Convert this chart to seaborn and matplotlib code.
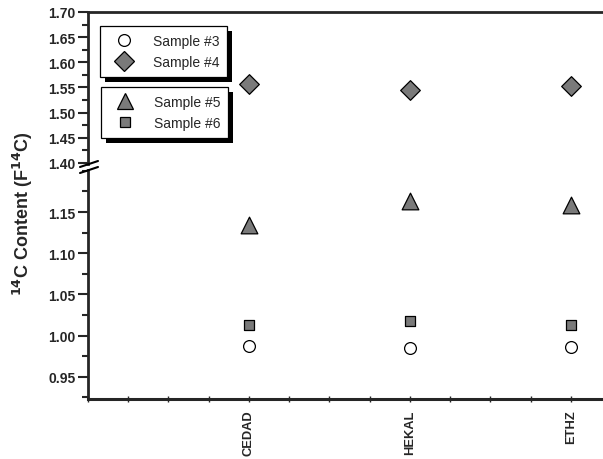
import matplotlib
matplotlib.use("Agg")
import matplotlib.pyplot as plt
import seaborn as sns
import pandas as pd
from matplotlib.lines import Line2D
from matplotlib.patches import Rectangle
from matplotlib.ticker import MultipleLocator

sns.set_style("white")
plt.rcParams['font.family'] = ['Liberation Sans', 'DejaVu Sans']

labs = ["CEDAD", "HEKAL", "ETHZ"]
xpos = [1, 2, 3]
s3 = [0.987, 0.985, 0.986]
s4 = [1.557, 1.546, 1.552]
s5 = [1.134, 1.163, 1.158]
s6 = [1.013, 1.018, 1.013]
ticks_top = [1.40, 1.45, 1.50, 1.55, 1.60, 1.65, 1.70]
ticks_bot = [0.95, 1.00, 1.05, 1.10, 1.15]

series = [
    ("Sample #3", s3, "o", "white", 8.5),
    ("Sample #4", s4, "D", "#7a7a7a", 10),
    ("Sample #5", s5, "^", "#7a7a7a", 12),
    ("Sample #6", s6, "s", "#7a7a7a", 7.5),
]

W, H = 603, 460
fig = plt.figure(figsize=(W / 100, H / 100), dpi=100)

def rect(x0, y0, x1, y1):
    return [x0 / W, 1 - y1 / H, (x1 - x0) / W, (y1 - y0) / H]

ax_t = fig.add_axes(rect(88, 13, 603, 165))
ax_b = fig.add_axes(rect(88, 171, 603, 400))
for a in (ax_t, ax_b):
    a.set_facecolor("none")

for name, vals, m, fc, ms in series:
    df = pd.DataFrame({"x": xpos, "y": vals})
    for a in (ax_t, ax_b):
        sns.scatterplot(data=df, x="x", y="y", ax=a, marker=m, s=ms ** 2,
                        color=fc, edgecolor="black", linewidth=0.9,
                        zorder=3, clip_on=True, legend=False)

ax_t.set_ylim(1.398, 1.70)
ax_b.set_ylim(0.923, 1.201)
for a in (ax_t, ax_b):
    a.set_xlim(0, 3.2)
    a.set_xlabel("")
    a.set_ylabel("")
    a.yaxis.set_minor_locator(MultipleLocator(0.025))
    a.tick_params(axis="y", which="major", direction="out", length=7, width=1.5,
                  labelsize=10, pad=2, left=True)
    a.tick_params(axis="y", which="minor", direction="out", length=4, width=1.5, left=True)
    a.spines["right"].set_visible(False)

ax_t.spines["bottom"].set_visible(False)
ax_t.spines["top"].set_linewidth(2)
ax_t.spines["left"].set_linewidth(2)
ax_t.set_xticks([])

ax_b.spines["top"].set_visible(False)
ax_b.spines["bottom"].set_linewidth(2.2)
ax_b.spines["left"].set_linewidth(2)
ax_b.set_xticks(xpos)
ax_b.set_xticklabels(labs, rotation=90, fontweight="bold", fontsize=9.3)
ax_b.xaxis.set_minor_locator(MultipleLocator(0.25))
ax_b.tick_params(axis="x", which="major", direction="inout", length=5, width=1, bottom=True, pad=5)
ax_b.tick_params(axis="x", which="minor", direction="inout", length=4, width=1, bottom=True)

ax_t.set_yticks(ticks_top)
ax_t.set_yticklabels([f"{v:.2f}" for v in ticks_top], fontweight="bold")
ax_b.set_yticks(ticks_bot)
ax_b.set_yticklabels([f"{v:.2f}" for v in ticks_bot], fontweight="bold")

# axis break marks
for yp in (165, 171):
    x0, x1 = 80 / W, 98 / W
    fig.add_artist(Line2D([x0, x1], [1 - (yp + 3) / H, 1 - (yp - 3) / H],
                          color="black", lw=1.5, transform=fig.transFigure))

fig.text(23 / W, 1 - 214 / H, r"$\mathbf{^{14}}$C Content (F$\mathbf{^{14}}$C)",
         rotation=90, ha="center", va="center", fontsize=13, fontweight="bold")

def make_legend(items, x0, y0):
    handles = [Line2D([], [], linestyle="none", marker=m, markersize=ms,
                      markerfacecolor=fc, markeredgecolor="black", markeredgewidth=0.9)
               for (_, _, m, fc, ms) in items]
    leg = fig.legend(handles, [i[0] for i in items], loc="upper left",
                     bbox_to_anchor=(x0 / W, 1 - y0 / H), bbox_transform=fig.transFigure,
                     frameon=True, fancybox=False, borderaxespad=0, fontsize=10,
                     handlelength=2.4, handletextpad=0.85, borderpad=0.55,
                     labelspacing=0.55)
    leg.get_frame().set_edgecolor("black")
    leg.get_frame().set_linewidth(0.9)
    leg.get_frame().set_alpha(1)
    leg.set_zorder(10)
    fig.canvas.draw()
    bb = leg.get_window_extent()
    sh = Rectangle((bb.x0 + 5, bb.y0 - 5), bb.width, bb.height,
                   transform=None, facecolor="black", edgecolor="none", zorder=9)
    fig.add_artist(sh)
    return leg

make_legend(series[:2], 100, 27)
make_legend(series[2:], 101, 88)

fig.savefig("out.png", dpi=100, facecolor="white")
